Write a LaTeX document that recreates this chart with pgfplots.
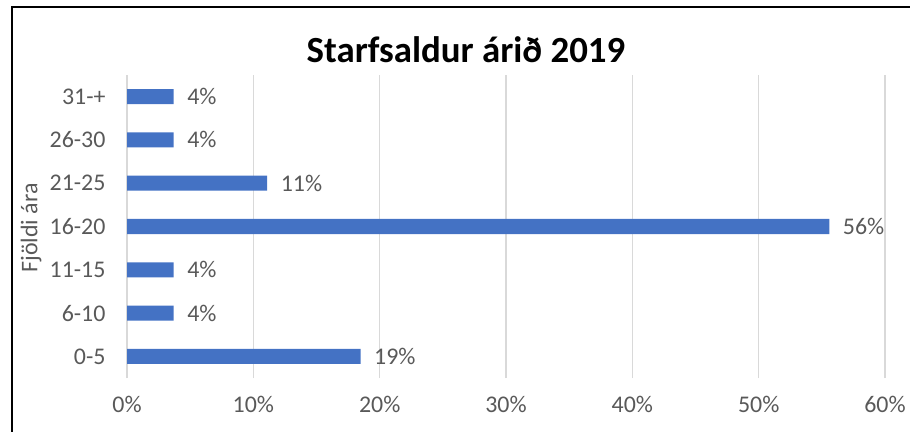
\documentclass[border=0pt]{standalone}
\usepackage{pgfplots}
\pgfplotsset{compat=1.18}
\usepackage{fontspec}
\setmainfont{Carlito}
\definecolor{barblue}{HTML}{4472C4}
\definecolor{gridgray}{HTML}{D9D9D9}
\definecolor{textgray}{HTML}{595959}
\begin{document}
\begin{tikzpicture}[x=1bp,y=1bp]
\begin{axis}[
    at={(127bp,53bp)}, anchor=south west,
    scale only axis, width=758bp, height=303bp,
    xbar, bar width=15bp,
    xmin=0, xmax=60, ymin=-0.5, ymax=6.5,
    ytick={0,...,6},
    yticklabels={0-5,6-10,11-15,16-20,21-25,26-30,31-+},
    xtick={0,10,...,60},
    xticklabel={\pgfmathprintnumber{\tick}\%},
    /pgf/number format/assume math mode=true,
    xmajorgrids=true,
    grid style={color=gridgray, line width=1.3bp},
    axis line style={draw=none},
    major tick length=0pt,
    tick label style={font=\fontsize{24}{28}\selectfont, text=textgray},
    xticklabel style={yshift=-15bp},
    yticklabel style={xshift=-18bp},
    nodes near coords,
    point meta=explicit symbolic,
    nodes near coords style={anchor=west, xshift=10bp,
        font=\fontsize{24}{28}\selectfont, text=textgray},
]
\addplot[fill=barblue, draw=none] coordinates {
    (18.5,0) [19\%]
    (3.7,1) [4\%]
    (3.7,2) [4\%]
    (55.6,3) [56\%]
    (11.1,4) [11\%]
    (3.7,5) [4\%]
    (3.7,6) [4\%]
};
\end{axis}
\node[anchor=base, inner sep=0pt, font=\fontsize{37}{44}\selectfont\bfseries] at (466,369) {Starfsaldur árið 2019};
\node[rotate=90, font=\fontsize{24}{28}\selectfont, text=textgray] at (31,203) {Fjöldi ára};
\draw[line width=2bp, black] (12,-10) -- (12,424) -- (930,424);
\pgfresetboundingbox
\useasboundingbox (0,0) rectangle (910,431);
\end{tikzpicture}
\end{document}
